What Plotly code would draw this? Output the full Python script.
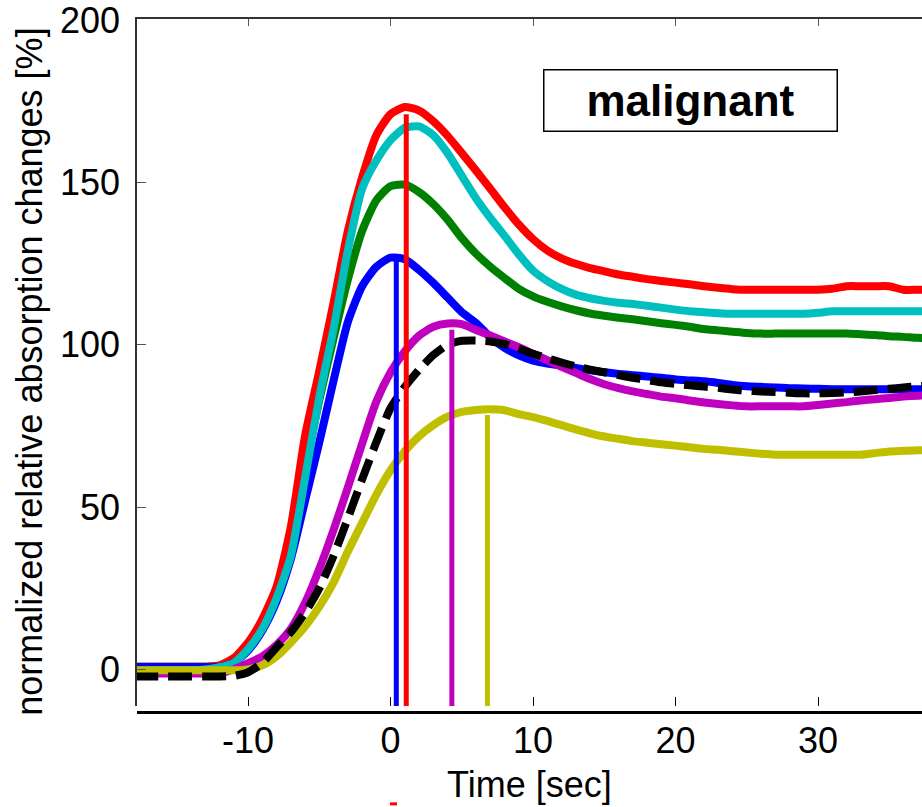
import plotly.graph_objects as go

# ---------------- data ----------------
time = list(range(-18, 39))

red = [0.8, 0.8, 0.8, 0.8, 0.8, 0.8, 1.2, 3.5, 8.3, 15.5, 25.5, 44, 72, 92, 113, 135, 151.5,
       164.5, 171, 173.2, 172.1, 168.8, 164.3, 159, 153.6, 148, 142.3, 137, 132.5, 129,
       126.6, 124.9, 123.6, 122.6, 121.6, 120.9, 120.2, 119.6, 119.1, 118.6, 118, 117.5,
       117.1, 116.9, 116.9, 116.9, 116.9, 116.9, 116.9, 117.2, 118, 118, 118, 118, 116.9,
       116.9, 116.9]
cyan = [-0.3, -0.3, -0.3, -0.3, -0.3, 0, 0.7, 2, 6.2, 12.5, 22, 35, 59, 84, 105, 129, 148,
        156.7, 163, 166.8, 167.2, 164.5, 159, 152, 145, 139, 133.5, 127.8, 122.8, 119.6, 117.2,
        115.4, 114.3, 113.5, 112.9, 112.5, 112, 111.4, 110.8, 110.3, 110, 109.7, 109.5, 109.5,
        109.5, 109.5, 109.5, 109.5, 109.8, 110.3, 110.3, 110.3, 110.3, 110.3, 110.3, 110.3,
        110.3]
green = [0.8, 0.8, 0.8, 0.8, 0.8, 0.8, 0.8, 3, 7.5, 14, 24, 39, 62, 83, 102, 120, 135, 144.5,
         148.8, 149.3, 147, 143.3, 138.5, 132.8, 128, 124, 120.5, 117.2, 114.9, 113.2, 111.8,
         110.6, 109.6, 108.9, 108.3, 107.8, 107.2, 106.6, 106.1, 105.5, 104.8, 104.4, 104,
         103.6, 103.4, 103.4, 103.4, 103.4, 103.4, 103.4, 103.4, 103.2, 103, 102.6, 102.4,
         102.1, 102]
blue = [0.7, 0.7, 0.7, 0.7, 0.7, 0.7, 0.7, 2, 5.8, 12, 21, 34, 52, 70, 89, 107, 118, 124,
        126.8, 126.3, 123, 119, 114.5, 110, 106.7, 102.3, 99, 96.7, 95.1, 94.2, 93.5, 92.8,
        92.1, 91.5, 91, 90.6, 90.2, 89.8, 89.3, 89, 88.7, 88.2, 87.6, 87.2, 87, 86.8, 86.6,
        86.5, 86.4, 86.3, 86.3, 86.3, 86.3, 86.3, 86.3, 86.3, 86.3]
magenta = [-1.3, -1.3, -1.3, -1.3, -1.3, -1.3, -1.2, 0, 1.9, 4, 7.5, 12.5, 20.5, 31, 43, 56,
           69.5, 82.5, 91.5, 98, 102.8, 105.5, 106.5, 106.3, 104.5, 102.8, 101, 99.2, 97.2,
           95.2, 93.2, 91.3, 89.4, 87.8, 86.6, 85.6, 84.8, 84, 83.5, 82.8, 82.2, 81.7, 81.3,
           81, 81, 81, 81, 81, 81.4, 81.9, 82.3, 82.8, 83.2, 83.6, 84, 84.3, 84.5]
black = [-2.2, -2.2, -2.2, -2.2, -2.2, -2.2, -2.2, -2, -0.9, 2, 6.8, 11.5, 17.5, 25, 35, 46.5,
         58.5, 70, 80.5, 87, 92.3, 96.8, 100, 101.2, 101.3, 101, 100.2, 98.8, 97.2, 95.8,
         94.5, 93.3, 92.3, 91.5, 90.6, 89.8, 89.1, 88.4, 87.9, 87.5, 87.1, 86.7, 86.2, 85.8,
         85.6, 85.4, 85.2, 85, 85, 85.1, 85.3, 85.6, 86, 86.4, 86.8, 87.2, 87.4]
yellow = [-0.3, -0.3, -0.3, -0.3, -0.3, -0.3, -0.3, -0.3, 0, 1.2, 4, 8.3, 13.2, 19.3, 26.8,
          36.3, 45.1, 53.8, 61.3, 67.2, 71.8, 75.2, 77.8, 79.3, 79.9, 80.1, 79.8, 78.6, 77.7,
          76.5, 75.2, 73.9, 72.7, 71.7, 71, 70.3, 69.8, 69.3, 68.9, 68.4, 67.9, 67.6, 67.2,
          66.8, 66.4, 66.1, 66.1, 66.1, 66.1, 66.1, 66.1, 66.1, 66.6, 67.1, 67.3, 67.5, 67.5]

# peak markers (vertical lines): time of peak and height of the line
peak_colors = ["#BFBF00", "#BF00BF", "#0000FF", "#FF0000"]
peak_times = [6.8, 4.3, 0.4, 1.1]
peak_values = [78.3, 104.6, 127, 171]

x_ticks = [-10, 0, 10, 20, 30]
y_ticks = [0, 50, 100, 150, 200]
x_range = [-17.8, 37.3]
y_range = [-11.3, 200.3]

FONT = "Liberation Sans, Arial, Helvetica, sans-serif"

fig = go.Figure()

curves = [
    (green, "#008000", None),
    (red, "#FF0000", None),
    (blue, "#0000FF", None),
    (cyan, "#00BFBF", None),
    (magenta, "#BF00BF", None),
    (yellow, "#BFBF00", None),
    (black, "#000000", "24px,10px"),
]
for vals, col, dash in curves:
    line = dict(color=col, width=8, shape="spline", smoothing=0.6)
    if dash:
        line["dash"] = dash
    fig.add_trace(go.Scatter(
        x=time, y=vals, mode="lines", xaxis="x2", yaxis="y",
        line=line, showlegend=False, hoverinfo="skip"))

for col, tp, pv in zip(peak_colors, peak_times, peak_values):
    fig.add_trace(go.Scatter(
        x=[tp, tp], y=[y_range[0], pv], mode="lines", xaxis="x2", yaxis="y",
        line=dict(color=col, width=5), showlegend=False, hoverinfo="skip"))

# invisible helper traces so that the extra axes are drawn
fig.add_trace(go.Scatter(x=[x_ticks[0]], y=[None], xaxis="x", yaxis="y", mode="lines",
                         showlegend=False, hoverinfo="skip"))
fig.add_trace(go.Scatter(x=[x_ticks[0]], y=[None], xaxis="x3", yaxis="y", mode="lines",
                         showlegend=False, hoverinfo="skip"))

fig.update_layout(
    width=922, height=807, autosize=False,
    margin=dict(l=137, r=0, t=14, b=95, pad=0),
    paper_bgcolor="white", plot_bgcolor="white",
    font=dict(family=FONT, size=36, color="black"),
    xaxis=dict(range=x_range, anchor="free", position=0, domain=[0, 1],
               showline=True, linecolor="black", linewidth=2.5,
               ticks="", tickvals=x_ticks, ticktext=[str(v) for v in x_ticks],
               tickfont=dict(size=36, family=FONT, color="black"),
               showgrid=False, zeroline=False, ticklabelstandoff=-4),
    xaxis2=dict(range=x_range, overlaying="x", anchor="y", side="bottom",
                showline=False, ticks="inside", ticklen=9, tickwidth=1.2,
                tickcolor="black", tickvals=x_ticks, showticklabels=False,
                showgrid=False, zeroline=False),
    xaxis3=dict(range=x_range, overlaying="x", anchor="y", side="top",
                showline=True, linecolor="#333333", linewidth=1.5,
                ticks="inside", ticklen=7, tickwidth=1, tickcolor="#555555",
                tickvals=x_ticks, showticklabels=False,
                showgrid=False, zeroline=False),
    yaxis=dict(range=y_range, domain=[0.0086, 1], anchor="x",
               showline=True, linecolor="#333333", linewidth=1.5,
               ticks="inside", ticklen=9, tickwidth=1.2, tickcolor="#555555",
               tickvals=y_ticks, ticktext=[str(v) for v in y_ticks],
               tickfont=dict(size=36, family=FONT, color="black"),
               ticklabeloverflow="allow",
               showgrid=False, zeroline=False, ticklabelstandoff=8),
    showlegend=False,
)

fig.add_annotation(
    text="normalized relative absorption changes [%]", textangle=-90,
    xref="paper", yref="paper", x=-0.1363, y=0.491, xanchor="center", yanchor="middle",
    showarrow=False, font=dict(family=FONT, size=36, color="black"))

fig.add_annotation(
    text="Time [sec]", xref="paper", yref="paper", x=0.5006, y=-0.1046,
    xanchor="center", yanchor="middle", showarrow=False,
    font=dict(family=FONT, size=36, color="black"))

fig.add_annotation(
    text="<b>malignant</b>", xref="paper", yref="paper", x=0.7045, y=0.882,
    xanchor="center", yanchor="middle", showarrow=False,
    width=288, height=56, borderpad=2, bordercolor="black", borderwidth=1.5,
    bgcolor="white", font=dict(family=FONT, size=44, color="black"))

# small red dash below the axis (present in the original figure)
fig.add_shape(type="rect", xref="paper", yref="paper",
              x0=0.3223, x1=0.3312, y0=-0.1347, y1=-0.1304,
              line=dict(width=0), fillcolor="#FF0000")

fig.write_html("out.html", config={"displayModeBar": False},
               post_script="document.body.style.margin='0px';document.body.style.padding='0px';")
